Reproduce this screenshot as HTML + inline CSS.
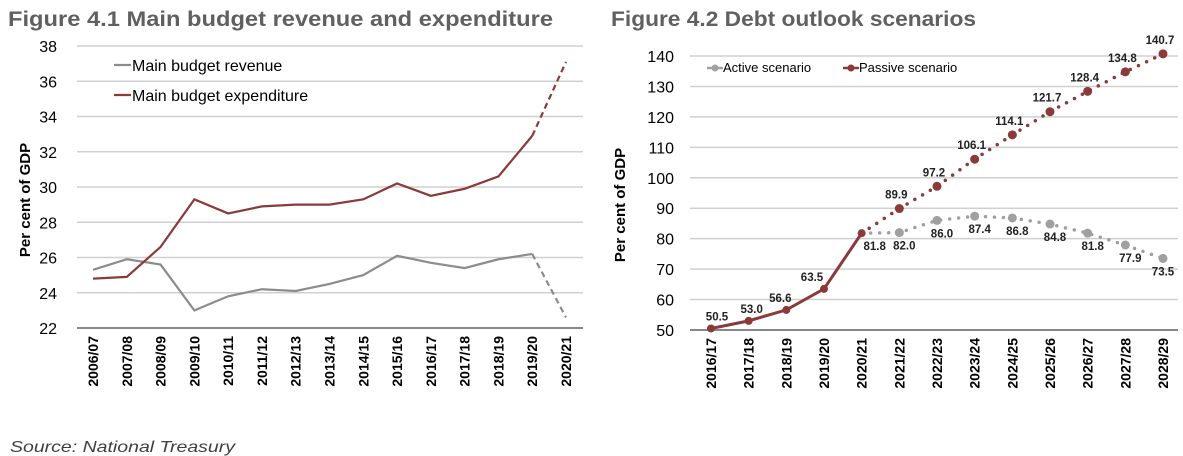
<!DOCTYPE html>
<html><head><meta charset="utf-8"><style>
body{margin:0;background:#fff;width:1183px;height:456px;overflow:hidden}
svg{display:block;font-family:"Liberation Sans",sans-serif}
</style></head><body>
<svg id="s" width="1183" height="456">
<text x="8" y="26" font-size="21" font-weight="bold" fill="#606060" textLength="545" lengthAdjust="spacingAndGlyphs">Figure 4.1 Main budget revenue and expenditure</text>
<text x="611" y="26" font-size="21" font-weight="bold" fill="#606060" textLength="365" lengthAdjust="spacingAndGlyphs">Figure 4.2 Debt outlook scenarios</text>
<text x="10" y="452" font-size="16" font-style="italic" fill="#404040" textLength="225" lengthAdjust="spacingAndGlyphs">Source: National Treasury</text>
<g id="c1"></g>
<g id="c2"></g>
</svg>
<script>
const NS='http://www.w3.org/2000/svg';
const cats1=['2006/07','2007/08','2008/09','2009/10','2010/11','2011/12','2012/13','2013/14','2014/15','2015/16','2016/17','2017/18','2018/19','2019/20','2020/21'];
const revenue=[25.3,25.9,25.6,23.0,23.8,24.2,24.1,24.5,25.0,26.1,25.7,25.4,25.9,26.2,22.6];
const expenditure=[24.8,24.9,26.6,29.3,28.5,28.9,29.0,29.0,29.3,30.2,29.5,29.9,30.6,32.9,37.1];
const ticks1=[22,24,26,28,30,32,34,36,38];
const cats2=['2016/17','2017/18','2018/19','2019/20','2020/21','2021/22','2022/23','2023/24','2024/25','2025/26','2026/27','2027/28','2028/29'];
const activeS=[50.5,53.0,56.6,63.5,81.8,82.0,86.0,87.4,86.8,84.8,81.8,77.9,73.5];
const passiveS=[50.5,53.0,56.6,63.5,81.8,89.9,97.2,106.1,114.1,121.7,128.4,134.8,140.7];
const ticks2=[50,60,70,80,90,100,110,120,130,140];

function el(p,t,a,txt){const e=document.createElementNS(NS,t);for(const k in a)e.setAttribute(k,a[k]);if(txt!==undefined)e.textContent=txt;p.appendChild(e);return e;}
const RED='#8b3a3a',GREY='#8c8c8c';

// Chart 1
(function(){
const g=document.getElementById('c1');
const L=77,R=583,T=46,B=328,x0=93,dx=(566-93)/(cats1.length-1);
const y=v=>B-(v-22)/(38-22)*(B-T);const x=i=>x0+i*dx;
ticks1.forEach(t=>{
const l=el(g,'line',{x1:L,x2:R,y1:y(t),y2:y(t),stroke:t===22?'#888':'#d0d0d0','stroke-width':t===22?2:1.5});

const tx=el(g,'text',{x:57,y:y(t)+6,'font-size':16,'text-anchor':'end',fill:'#000'},t);

});
cats1.forEach((c,i)=>{const t=el(g,'text',{transform:`translate(${x(i)+5},336) rotate(-90)`,'font-size':14,'font-weight':'bold','text-anchor':'end',fill:'#000'},c);
});
const yt=el(g,'text',{transform:'translate(30,200) rotate(-90)','font-size':15,'font-weight':'bold','text-anchor':'middle'},'Per cent of GDP');

function series(arr,col,name){
const n=arr.length;let d='';for(let i=0;i<n-1;i++)d+=(i?'L':'M')+x(i)+','+y(arr[i]);
const p=el(g,'path',{d,fill:'none',stroke:col,'stroke-width':2.2});

const q=el(g,'path',{d:`M${x(n-2)},${y(arr[n-2])}L${x(n-1)},${y(arr[n-1])}`,fill:'none',stroke:col,'stroke-width':2.2,'stroke-dasharray':'6,4'});

}
series(revenue,GREY,'revenue');series(expenditure,RED,'expenditure');
[[GREY,'Main budget revenue',65],[RED,'Main budget expenditure',95]].forEach(([c,l,yy])=>{
const gg=el(g,'g',{});
el(gg,'line',{x1:114,x2:131,y1:yy,y2:yy,stroke:c,'stroke-width':2.2});
el(gg,'text',{x:132,y:yy+6,'font-size':16,fill:'#000'},l);});
})();

// Chart 2
(function(){
const g=document.getElementById('c2');
const L=690,R=1178,T=56,B=330,x0=711,dx=(1163-711)/(cats2.length-1);
const y=v=>B-(v-50)/(140-50)*(B-T);const x=i=>x0+i*dx;
ticks2.forEach(t=>{
const l=el(g,'line',{x1:L,x2:R,y1:y(t),y2:y(t),stroke:t===50?'#888':'#d0d0d0','stroke-width':t===50?2:1.5});

const tx=el(g,'text',{x:674,y:y(t)+6,'font-size':16,'text-anchor':'end'},t);

});
cats2.forEach((c,i)=>{const t=el(g,'text',{transform:`translate(${x(i)+5},338) rotate(-90)`,'font-size':14,'font-weight':'bold','text-anchor':'end'},c);
});
const yt=el(g,'text',{transform:'translate(625,205) rotate(-90)','font-size':15,'font-weight':'bold','text-anchor':'middle'},'Per cent of GDP');

const split=4;
function proj(arr,col,name){
let d='';for(let i=split;i<arr.length;i++)d+=(i>split?'L':'M')+x(i)+','+y(arr[i]);
const p=el(g,'path',{d,fill:'none',stroke:col,'stroke-width':3.5,'stroke-dasharray':'0,9','stroke-linecap':'round'});

for(let i=split+1;i<arr.length;i++){const c=el(g,'circle',{cx:x(i),cy:y(arr[i]),r:4.5,fill:col});
}
}
proj(activeS,'#a0a0a0','active');proj(passiveS,RED,'passive');
let d='';for(let i=0;i<=split;i++)d+=(i?'L':'M')+x(i)+','+y(passiveS[i]);
const h=el(g,'path',{d,fill:'none',stroke:RED,'stroke-width':3});

for(let i=0;i<=split;i++){const c=el(g,'circle',{cx:x(i),cy:y(passiveS[i]),r:4,fill:RED});
}
function lab(xx,yy,v){const t=el(g,'text',{x:xx,y:yy,'font-size':11.5,'font-weight':'bold','text-anchor':'middle',fill:'#222'},v.toFixed(1));
}
const offs=[6,3,-6,-12];
for(let i=0;i<split;i++)lab(x(i)+offs[i],y(passiveS[i])-8,passiveS[i]);
lab(x(4)+13,y(activeS[4])+17,activeS[4]);
for(let i=split+1;i<cats2.length;i++){lab(x(i)-3,y(passiveS[i])-10,passiveS[i]);lab(x(i)+(i===12?0:5),y(activeS[i])+17,activeS[i]);}
[['#a0a0a0','Active scenario',707],[RED,'Passive scenario',843]].forEach(([c,l,xx])=>{
const gg=el(g,'g',{});
el(gg,'line',{x1:xx,x2:xx+16,y1:68,y2:68,stroke:c,'stroke-width':2.5});
el(gg,'circle',{cx:xx+8,cy:68,r:3.5,fill:c});
el(gg,'text',{x:xx+16,y:72,'font-size':13,fill:'#000'},l);});
})();
</script>
</body></html>
